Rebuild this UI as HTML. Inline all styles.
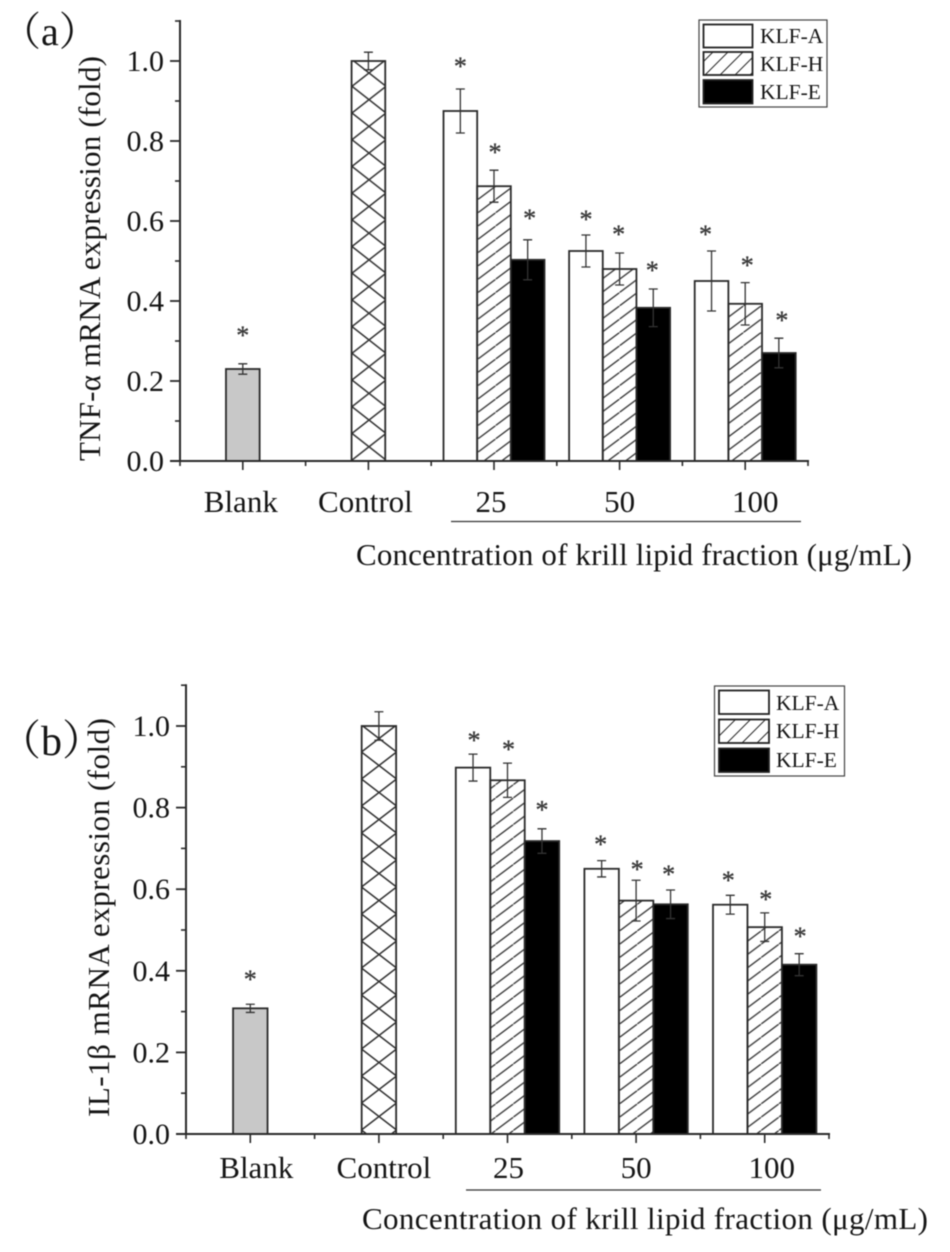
<!DOCTYPE html>
<html lang="en">
<head>
<meta charset="utf-8">
<title>TNF-α and IL-1β mRNA expression</title>
<style>
html,body{margin:0;padding:0;background:#fff;width:950px;height:1252px;overflow:hidden}
svg{display:block;filter:blur(0.45px)}
text{font-family:"Liberation Serif","Noto Serif CJK SC",serif;fill:#151515}
</style>
</head>
<body>
<svg id="figure" width="950" height="1252" viewBox="0 0 950 1252" xmlns="http://www.w3.org/2000/svg">
<defs>
<pattern id="hatch-right" patternUnits="userSpaceOnUse" width="17.7" height="13.3">
<path d="M-2,14.8 L2,11.8 M0,13.3 L17.7,0 M15.7,1.5 L19.7,-1.5" stroke="#333" stroke-width="1.3" fill="none"/>
</pattern>
<pattern id="hatch-legend" patternUnits="userSpaceOnUse" width="15" height="15">
<path d="M-2,2 L2,-2 M0,15 L15,0 M13,17 L17,13" stroke="#333" stroke-width="1.1" fill="none"/>
</pattern>
<pattern id="hatch-cross-a" patternUnits="userSpaceOnUse" x="352" y="59.6" width="34" height="26.7">
<path d="M0,0 L34,26.7 M0,26.7 L34,0" stroke="#333" stroke-width="1.5" fill="none"/>
</pattern>
<pattern id="hatch-cross-b" patternUnits="userSpaceOnUse" x="361.5" y="725" width="35" height="27">
<path d="M0,0 L35,27 M0,27 L35,0" stroke="#333" stroke-width="1.5" fill="none"/>
</pattern>
</defs>
<rect width="950" height="1252" fill="#fff"/>

<g id="panel-a"></g>
<g id="panel-b"></g>

<text x="1" y="45" font-size="40">（a）</text>
<text x="-1" y="755" font-size="42">（b）</text>

<text transform="translate(100,461) rotate(-90)" font-size="31" textLength="405" lengthAdjust="spacing">TNF-α mRNA expression (fold)</text>
<text transform="translate(109,1117) rotate(-90)" font-size="31" textLength="399" lengthAdjust="spacing">IL-1β mRNA expression (fold)</text>

<text x="356" y="565" font-size="31" textLength="556" lengthAdjust="spacing">Concentration of krill lipid fraction (μg/mL)</text>
<text x="362" y="1229" font-size="31" textLength="566" lengthAdjust="spacing">Concentration of krill lipid fraction (μg/mL)</text>

<line x1="451" x2="801" y1="521.5" y2="521.5" stroke="#333" stroke-width="1.2"/>
<line x1="466" x2="821" y1="1190" y2="1190" stroke="#333" stroke-width="1.2"/>

<g>
<rect x="699" y="20" width="128" height="87" fill="#fff" stroke="#444" stroke-width="1.2"/>
<rect x="703.5" y="24.5" width="49" height="23" fill="#fff" stroke="#222" stroke-width="1.8"/>
<rect x="703.5" y="52" width="49" height="23" fill="url(#hatch-legend)" stroke="#222" stroke-width="1.8"/>
<rect x="703.5" y="80" width="49" height="23.5" fill="#000" stroke="#222" stroke-width="1.8"/>
<text x="760" y="43" font-size="21.5">KLF-A</text>
<text x="760" y="71" font-size="21.5">KLF-H</text>
<text x="760" y="99" font-size="21.5">KLF-E</text>
</g>
<g>
<rect x="714.5" y="686" width="130" height="90" fill="#fff" stroke="#444" stroke-width="1.2"/>
<rect x="719" y="690.5" width="50" height="23.5" fill="#fff" stroke="#222" stroke-width="1.8"/>
<rect x="719" y="719.5" width="50" height="23.5" fill="url(#hatch-legend)" stroke="#222" stroke-width="1.8"/>
<rect x="719" y="748.5" width="50" height="23.5" fill="#000" stroke="#222" stroke-width="1.8"/>
<text x="776" y="710" font-size="21.5">KLF-A</text>
<text x="776" y="738" font-size="21.5">KLF-H</text>
<text x="776" y="767" font-size="21.5">KLF-E</text>
</g>
</svg>

<script>
const categories = ['Blank', 'Control', '25', '50', '100'];
const yTickValues = [0, 0.2, 0.4, 0.6, 0.8, 1.0];
const yMinorTickValues = [0.1, 0.3, 0.5, 0.7, 0.9, 1.1];

const aControls = [0.23, 1.0];
const aControlsErr = [0.013, 0.022];
const aControlsStar = [0.32, null];
const aKlfA = [0.875, 0.525, 0.45];
const aKlfAErr = [0.055, 0.04, 0.075];
const aKlfAStar = [0.9925, 0.61, 0.5725];
const aKlfH = [0.687, 0.48, 0.393];
const aKlfHErr = [0.04, 0.04, 0.053];
const aKlfHStar = [0.7775, 0.5725, 0.495];
const aKlfE = [0.503, 0.383, 0.27];
const aKlfEErr = [0.05, 0.047, 0.037];
const aKlfEStar = [0.6125, 0.4825, 0.3575];

const bControls = [0.308, 1.0];
const bControlsErr = [0.01, 0.035];
const bControlsStar = [0.385, null];
const bKlfA = [0.898, 0.65, 0.562];
const bKlfAErr = [0.033, 0.02, 0.023];
const bKlfAStar = [0.97, 0.716, 0.627];
const bKlfH = [0.867, 0.572, 0.507];
const bKlfHErr = [0.042, 0.05, 0.035];
const bKlfHStar = [0.948, 0.654, 0.581];
const bKlfE = [0.718, 0.563, 0.415];
const bKlfEErr = [0.03, 0.035, 0.027];
const bKlfEStar = [0.8, 0.642, 0.49];

const NS = 'http://www.w3.org/2000/svg';

function make(parent, tag, attrs, text) {
  const el = document.createElementNS(NS, tag);
  for (const k in attrs) el.setAttribute(k, attrs[k]);
  if (text !== undefined) el.textContent = text;
  parent.appendChild(el);
  return el;
}

function drawPanel(parent, frame, d) {
  const xScale = function (pos) { return frame.left + (pos + 0.5) * frame.step; };
  const yScale = function (v) { return frame.base - v * frame.unit; };
  const barW = frame.step * 0.268;

  function bar(pos, value, err, star, fill, label, nudge) {
    const cx = xScale(pos);
    const g = make(parent, 'g', {});
    
    
    const r = make(g, 'rect', {
      x: cx - barW / 2, y: yScale(value), width: barW, height: frame.base - yScale(value),
      fill: fill, stroke: '#2a2a2a', 'stroke-width': 1.8
    });
    
    
    const top = yScale(value + err);
    const bot = yScale(value - err);
    const eb = make(g, 'path', {
      d: 'M' + (cx - 4.5) + ',' + top + 'H' + (cx + 4.5) + 'M' + cx + ',' + top + 'V' + bot +
         'M' + (cx - 4.5) + ',' + bot + 'H' + (cx + 4.5),
      stroke: '#333', 'stroke-width': 1.3, fill: 'none'
    });
    
    
    if (star !== null) {
      const s = make(g, 'text', {
        x: cx + nudge, y: yScale(star) + 11, 'text-anchor': 'middle', 'font-size': 26
      }, '*');
      
      
      s.style.fill = '#3a3a3a';
      s.style.stroke = '#3a3a3a';
      s.style.strokeWidth = '0.35';
    }
  }

  d.controls.forEach(function (v, i) {
    bar(i, v, d.controlsErr[i], d.controlsStar[i],
      i === 0 ? '#c8c8c8' : frame.crossFill, categories[i].toLowerCase(), 0);
  });

  const offsets = [-1, 0, 1];
  const seriesFill = ['#fff', 'url(#hatch-right)', '#000'];
  const seriesKey = ['klf-a', 'klf-h', 'klf-e'];
  d.series.forEach(function (values, s) {
    values.forEach(function (v, i) {
      const pos = i + 2 + offsets[s] * barW / frame.step;
      bar(pos, v, d.seriesErr[s][i], d.seriesStar[s][i], seriesFill[s],
        seriesKey[s] + '-' + categories[i + 2], frame.starNudge[s][i]);
    });
  });

  const axes = make(parent, 'g', { stroke: '#2a2a2a', fill: 'none' });
  
  
  const xEnd = xScale(categories.length - 0.5);
  const yAxis = make(axes, 'line', { x1: frame.left, x2: frame.left, y1: yScale(1.1) - 1, y2: frame.base + 1, 'stroke-width': 2 });
  
  
  const xAxis = make(axes, 'line', { x1: frame.left - 10, x2: xEnd + 1, y1: frame.base, y2: frame.base, 'stroke-width': 2 });
  
  

  yTickValues.forEach(function (v) {
    const y = yScale(v);
    const t = make(axes, 'line', { x1: frame.left - 10, x2: frame.left, y1: y, y2: y, 'stroke-width': 1.8 });
    
    
    const l = make(parent, 'text', { x: frame.left - 16, y: y + 10, 'text-anchor': 'end', 'font-size': 30 }, v.toFixed(1));
    
    
  });
  yMinorTickValues.forEach(function (v) {
    const y = yScale(v);
    const t = make(axes, 'line', { x1: frame.left - 5, x2: frame.left, y1: y, y2: y, 'stroke-width': 1.6 });
    
    
  });

  categories.forEach(function (c, i) {
    const x = xScale(i);
    const t = make(axes, 'line', { x1: x, x2: x, y1: frame.base, y2: frame.base + 9, 'stroke-width': 1.6 });
    
    
    const m = make(axes, 'line', { x1: x + frame.step / 2, x2: x + frame.step / 2, y1: frame.base, y2: frame.base + 5, 'stroke-width': 1.6 });
    
    
    const l = make(parent, 'text', { x: x + frame.labelShift[i], y: frame.base + frame.labelDrop, 'text-anchor': 'middle', 'font-size': 31 }, c);
    
    
  });
  const m0 = make(axes, 'line', { x1: frame.left, x2: frame.left, y1: frame.base, y2: frame.base + 5, 'stroke-width': 1.6 });
  
  
}

drawPanel(document.getElementById('panel-a'),
  { left: 180, step: 125.6, base: 461, unit: 400, crossFill: 'url(#hatch-cross-a)',
    labelShift: [-2, -3, -3, 0, 10], labelDrop: 51,
    starNudge: [[0, 0, -6], [1, -1, 2], [2, -1, 3]] },
  { controls: aControls, controlsErr: aControlsErr, controlsStar: aControlsStar,
    series: [aKlfA, aKlfH, aKlfE],
    seriesErr: [aKlfAErr, aKlfHErr, aKlfEErr],
    seriesStar: [aKlfAStar, aKlfHStar, aKlfEStar] });

drawPanel(document.getElementById('panel-b'),
  { left: 186, step: 128.6, base: 1134, unit: 408, crossFill: 'url(#hatch-cross-b)',
    labelShift: [6, 5, 1, 0, 7], labelDrop: 44,
    starNudge: [[1, -1, -2], [1, 1, 1], [0, -2, 1]] },
  { controls: bControls, controlsErr: bControlsErr, controlsStar: bControlsStar,
    series: [bKlfA, bKlfH, bKlfE],
    seriesErr: [bKlfAErr, bKlfHErr, bKlfEErr],
    seriesStar: [bKlfAStar, bKlfHStar, bKlfEStar] });
</script>
</body>
</html>
